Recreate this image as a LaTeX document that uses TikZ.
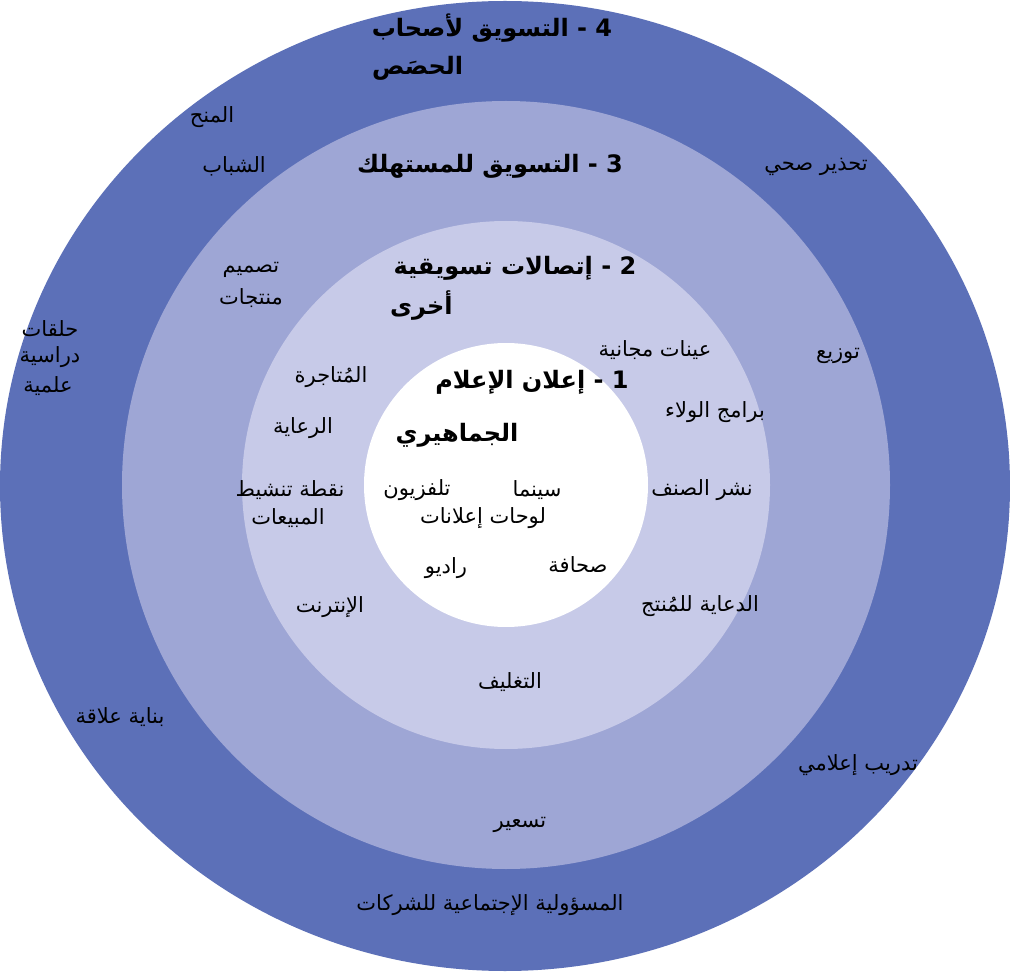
\documentclass[tikz,border=0pt]{standalone}
\usepackage{fontspec}
\TeXXeTstate=1
\newfontfamily\arfont[Script=Arabic]{DejaVu Sans}
\newcommand{\rtl}[1]{\beginR #1\endR}
\definecolor{ringfour}{RGB}{92,112,184}
\definecolor{ringthree}{RGB}{158,166,213}
\definecolor{ringtwo}{RGB}{199,202,232}
\tikzset{
  lbl/.style={font=\arfont\fontsize{21}{25}\selectfont, inner sep=0pt, text=black},
  ttl/.style={font=\arfont\bfseries\fontsize{24}{28}\selectfont, inner sep=0pt, text=black}
}
\begin{document}
\begin{tikzpicture}[x=1pt,y=-1pt]
\useasboundingbox (0,0) rectangle (1010,973);
\fill[white] (0,0) rectangle (1010,973);
% rings
\fill[ringfour] (505,486) ellipse [x radius=505pt, y radius=485pt];
\fill[ringthree] (506,485) circle [radius=384pt];
\fill[ringtwo] (506,485) circle [radius=264pt];
\fill[white] (506,485) circle [radius=142pt];
% ring 4
\node[ttl] (t4a) at (492,28) {\rtl{4 - التسويق لأصحاب}};
\node[ttl, anchor=west] (t4b) at (372,68) {\rtl{الحصَص}};
\node[lbl] (grants) at (212,117) {\rtl{المنح}};
\node[lbl] (youth) at (234,166) {\rtl{الشباب}};
\node[lbl] (health) at (816,167) {\rtl{تحذير صحي}};
\node[lbl] (sem1) at (50,329) {\rtl{حلقات}};
\node[lbl] (sem2) at (50,357) {\rtl{دراسية}};
\node[lbl] (sem3) at (48,386) {\rtl{علمية}};
\node[lbl] (relation) at (120,717) {\rtl{بناية علاقة}};
\node[lbl] (mediatrain) at (858,765) {\rtl{تدريب إعلامي}};
\node[lbl] (csr) at (490,905) {\rtl{المسؤولية الإجتماعية للشركات}};
% ring 3
\node[ttl] (t3) at (490,166) {\rtl{3 - التسويق للمستهلك}};
\node[lbl] (design1) at (251,270) {\rtl{تصميم}};
\node[lbl] (design2) at (251,298) {\rtl{منتجات}};
\node[lbl] (distrib) at (838,356) {\rtl{توزيع}};
\node[lbl] (pricing) at (520,825) {\rtl{تسعير}};
% ring 2
\node[ttl] (t2a) at (515,268) {\rtl{2 - إتصالات تسويقية}};
\node[ttl, anchor=west] (t2b) at (390,306) {\rtl{أخرى}};
\node[lbl] (samples) at (655,350) {\rtl{عينات مجانية}};
\node[lbl] (trade) at (331,377) {\rtl{المُتاجرة}};
\node[lbl] (loyalty) at (715,412) {\rtl{برامج الولاء}};
\node[lbl] (sponsor) at (303,428) {\rtl{الرعاية}};
\node[lbl] (pos1) at (290,490) {\rtl{نقطة تنشيط}};
\node[lbl] (pos2) at (288,518) {\rtl{المبيعات}};
\node[lbl] (placement) at (702,490) {\rtl{نشر الصنف}};
\node[lbl] (internet) at (330,607) {\rtl{الإنترنت}};
\node[lbl] (publicity) at (700,606) {\rtl{الدعاية للمُنتج}};
\node[lbl] (packaging) at (510,682) {\rtl{التغليف}};
% ring 1
\node[ttl] (t1a) at (532,382) {\rtl{1 - إعلان الإعلام}};
\node[ttl] (t1b) at (457,435) {\rtl{الجماهيري}};
\node[lbl] (tv) at (417,490) {\rtl{تلفزيون}};
\node[lbl] (cinema) at (537,490) {\rtl{سينما}};
\node[lbl] (billboards) at (483,518) {\rtl{لوحات إعلانات}};
\node[lbl] (press) at (578,565) {\rtl{صحافة}};
\node[lbl] (radio) at (446,568) {\rtl{راديو}};
\end{tikzpicture}
\end{document}
